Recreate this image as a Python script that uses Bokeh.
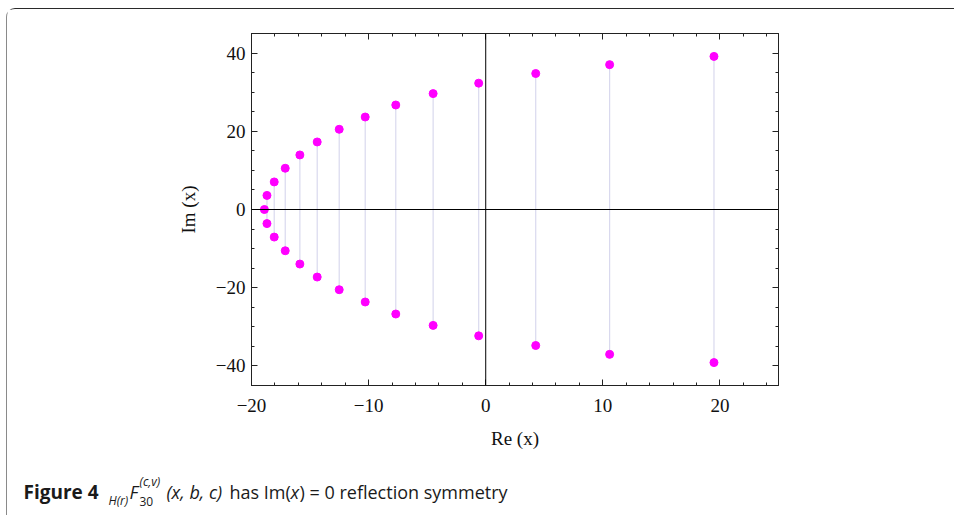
from bokeh.plotting import figure
from bokeh.models import LinearAxis, Span, Label, FixedTicker, Range1d, ColumnDataSource
from bokeh.embed import file_html
from bokeh.resources import INLINE

# ---- data (roots: real part, positive imaginary part; conjugates mirrored) ----
re_vals = [-18.9, -18.68, -18.06, -17.12, -15.87, -14.39, -12.51, -10.29, -7.68, -4.49, -0.6, 4.27, 10.58, 19.49]
im_vals = [0.0, 3.6, 7.05, 10.55, 13.95, 17.27, 20.51, 23.65, 26.72, 29.63, 32.3, 34.77, 37.04, 39.14]

x_ticks = [-20, -10, 0, 10, 20]
y_ticks = [-40, -20, 0, 20, 40]
x_minor = list(range(-20, 26, 2))
y_minor = list(range(-45, 46, 5))

pts_x = re_vals + [r for r, i in zip(re_vals, im_vals) if i != 0]
pts_y = im_vals + [-i for i in im_vals if i != 0]
seg_src = ColumnDataSource(dict(x=re_vals, y0=[-i for i in im_vals], y1=im_vals))
pt_src = ColumnDataSource(dict(x=pts_x, y=pts_y))

W, H_MAIN, H_CAP = 948, 456, 51
p = figure(width=W, height=H_MAIN, x_range=Range1d(-20, 25), y_range=Range1d(-45, 45),
           output_backend="svg", toolbar_location=None,
           min_border_left=244, min_border_right=177, min_border_top=24, min_border_bottom=80)
p.styles = {"margin-top": "8px", "margin-left": "6px",
            "border-top": "1.5px solid #2a2a2a", "border-left": "1px solid #8a8a8a",
            "border-top-left-radius": "9px"}
p.background_fill_color = "white"
p.border_fill_color = "white"
p.outline_line_color = "#222222"
p.outline_line_width = 1
p.xgrid.visible = False
p.ygrid.visible = False

def minus(v):
    return str(v).replace("-", "\u2212")

def style_axis(ax, ticks, minor, show_labels):
    ax.ticker = FixedTicker(ticks=ticks, minor_ticks=minor)
    ax.major_tick_in = 6
    ax.major_tick_out = 0
    ax.minor_tick_in = 3
    ax.minor_tick_out = 0
    ax.axis_line_color = "#222222"
    ax.major_tick_line_color = "#222222"
    ax.minor_tick_line_color = "#222222"
    if show_labels:
        ax.major_label_overrides = {t: minus(t) for t in ticks}
        ax.major_label_text_font = "Liberation Serif"
        ax.major_label_text_font_size = "19px"
        ax.major_label_text_color = "#111111"
        ax.axis_label_text_font = "Liberation Serif"
        ax.axis_label_text_font_size = "19px"
        ax.axis_label_text_font_style = "normal"
        ax.axis_label_text_color = "#111111"
    else:
        ax.major_label_overrides = {t: "" for t in ticks}
        ax.major_label_text_color = None
        ax.major_label_standoff = 0

xa = p.xaxis[0]
ya = p.yaxis[0]
style_axis(xa, x_ticks, x_minor, True)
style_axis(ya, y_ticks, y_minor, True)
xa.axis_label = "Re (x)"
ya.axis_label = "Im (x)"
xa.major_label_standoff = 13
ya.major_label_standoff = 6
xa.axis_label_standoff = 13
ya.axis_label_standoff = 14

top_ax = LinearAxis()
right_ax = LinearAxis()
style_axis(top_ax, x_ticks, x_minor, False)
style_axis(right_ax, y_ticks, y_minor, False)
p.add_layout(top_ax, "above")
p.add_layout(right_ax, "right")

p.add_layout(Span(location=0, dimension="height", line_color="black", line_width=1))
p.add_layout(Span(location=0, dimension="width", line_color="black", line_width=1))

p.segment(x0="x", y0="y0", x1="x", y1="y1", source=seg_src, line_color="#d9d9ee", line_width=1.2)
p.scatter(x="x", y="y", source=pt_src, size=8, fill_color="#ff00ff", line_color="#ff00ff")

# ---- caption strip: a separate frame-only figure whose data units are pixels ----
OX, OY = 7, 9.5 + H_MAIN + 5
c = figure(width=W, height=H_CAP, x_range=Range1d(0, W), y_range=Range1d(H_CAP, 0),
           output_backend="svg", toolbar_location=None, x_axis_location=None,
           y_axis_location=None, min_border=0)
c.styles = {"margin-left": "6px", "border-left": "1px solid #8a8a8a"}
c.outline_line_color = None
c.xgrid.visible = False
c.ygrid.visible = False
c.border_fill_color = "white"
c.background_fill_color = "white"

def cap(text, x_page, y_page, size, style="normal", color="#1a1a1a"):
    c.add_layout(Label(x=x_page - OX, y=y_page - OY, text=text, text_font="Open Sans",
                       text_font_size=size, text_font_style=style, text_color=color,
                       text_align="left", text_baseline="alphabetic"))

cap("Figure 4", 23, 498, "19px", "bold")
cap("H(r)", 108, 506, "12px", "italic")
cap("F", 129, 498, "18px", "italic")
cap("(c,v)", 139, 487, "12px", "italic")
cap("30", 139, 507, "12px")
cap("(x, b, c)", 166, 498, "18px", "italic")
cap("has Im(", 229, 498, "18px")
cap("x", 290, 498, "18px", "italic")
cap(") = 0 reflection symmetry", 299, 498, "18px")

open("out.html", "w").write(file_html([p, c], INLINE))
